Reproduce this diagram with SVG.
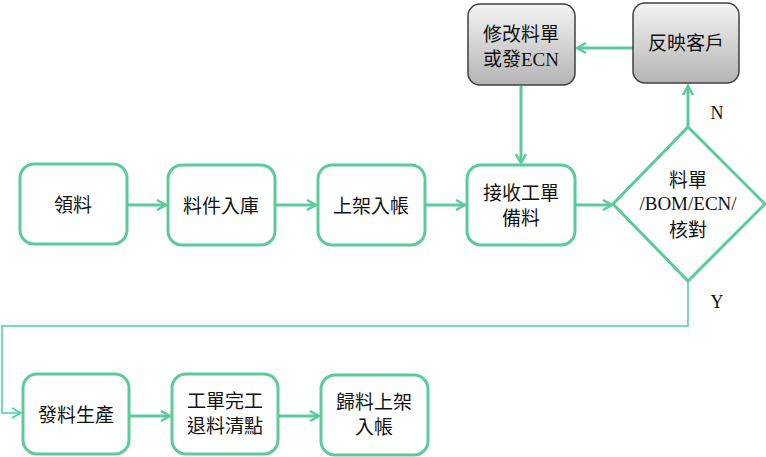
<svg xmlns="http://www.w3.org/2000/svg" width="766" height="457" viewBox="0 0 766 457">
<defs>
<linearGradient id="gray" x1="0" y1="0" x2="0" y2="1">
<stop offset="0" stop-color="#f4f4f4"/>
<stop offset="1" stop-color="#b4b4b4"/>
</linearGradient>
<marker id="arr" viewBox="0 0 12 12" refX="10" refY="6" markerWidth="12" markerHeight="12" markerUnits="userSpaceOnUse" orient="auto">
<path d="M1,1 L10,6 L1,11" fill="none" stroke="#5ccb9b" stroke-width="2.5"/>
</marker>
<marker id="arrThin" viewBox="0 0 12 12" refX="10" refY="6" markerWidth="12" markerHeight="12" markerUnits="userSpaceOnUse" orient="auto">
<path d="M1,1 L10,6 L1,11" fill="none" stroke="#3fd6a6" stroke-width="1.5"/>
</marker>
</defs>
<style>
.box{fill:#ffffff;stroke:#5ccb9b;stroke-width:3}
.gbox{fill:url(#gray);stroke:#404040;stroke-width:1.5}
.t{font-family:"Liberation Serif","Noto Sans CJK TC",serif;font-size:19px;fill:#111;text-anchor:middle}
.lbl{font-family:"Liberation Serif",serif;font-size:18px;fill:#111;text-anchor:middle}
.c{fill:none;stroke:#5ccb9b;stroke-width:3;marker-end:url(#arr)}
.cy{fill:none;stroke:#3fd6a6;stroke-width:1.5;marker-end:url(#arrThin)}
</style>
<g id="connectors">
<line class="c" x1="127" y1="205" x2="166" y2="205"/>
<line class="c" x1="275" y1="205" x2="316" y2="205"/>
<line class="c" x1="425" y1="205" x2="465" y2="205"/>
<line class="c" x1="575" y1="205" x2="612" y2="205"/>
<line class="c" x1="688" y1="127" x2="688" y2="86"/>
<line class="c" x1="633" y1="48" x2="577" y2="48"/>
<line class="c" x1="521" y1="86" x2="521" y2="163"/>
<polyline class="cy" points="688,280 688,326 2,326 2,413 21,413"/>
<line class="c" x1="129" y1="416" x2="170" y2="416"/>
<line class="c" x1="278" y1="416" x2="319" y2="416"/>
<text class="lbl" x="717" y="119">N</text>
<text class="lbl" x="717" y="308">Y</text>
</g>
<g id="n1"><rect class="box" x="20" y="164" width="107" height="80" rx="14"/><text class="t" x="73" y="212">領料</text></g>
<g id="n2"><rect class="box" x="168" y="165" width="107" height="80" rx="14"/><text class="t" x="221" y="213">料件入庫</text></g>
<g id="n3"><rect class="box" x="318" y="165" width="107" height="80" rx="14"/><text class="t" x="371" y="213">上架入帳</text></g>
<g id="n4"><rect class="box" x="467" y="165" width="108" height="80" rx="14"/><text class="t" x="521" y="200">接收工單</text><text class="t" x="521" y="225">備料</text></g>
<g id="n5"><polygon points="688,127 765,204 688,281 613,204" fill="#fff" stroke="#5ccb9b" stroke-width="3"/><text class="t" x="688" y="187">料單</text><text class="t" x="688" y="210">/BOM/ECN/</text><text class="t" x="688" y="237">核對</text></g>
<g id="n6"><rect class="gbox" x="468" y="4" width="107" height="81" rx="12"/><text class="t" x="521" y="41">修改料單</text><text class="t" x="521" y="66">或發ECN</text></g>
<g id="n7"><rect class="gbox" x="633" y="3" width="106" height="80" rx="12"/><text class="t" x="686" y="50">反映客戶</text></g>
<g id="n8"><rect class="box" x="23" y="374" width="106" height="80" rx="14"/><text class="t" x="76" y="422">發料生產</text></g>
<g id="n9"><rect class="box" x="172" y="374" width="106" height="80" rx="14"/><text class="t" x="225" y="408">工單完工</text><text class="t" x="225" y="433">退料清點</text></g>
<g id="n10"><rect class="box" x="321" y="375" width="107" height="80" rx="14"/><text class="t" x="374" y="409">歸料上架</text><text class="t" x="374" y="434">入帳</text></g>
</svg>
